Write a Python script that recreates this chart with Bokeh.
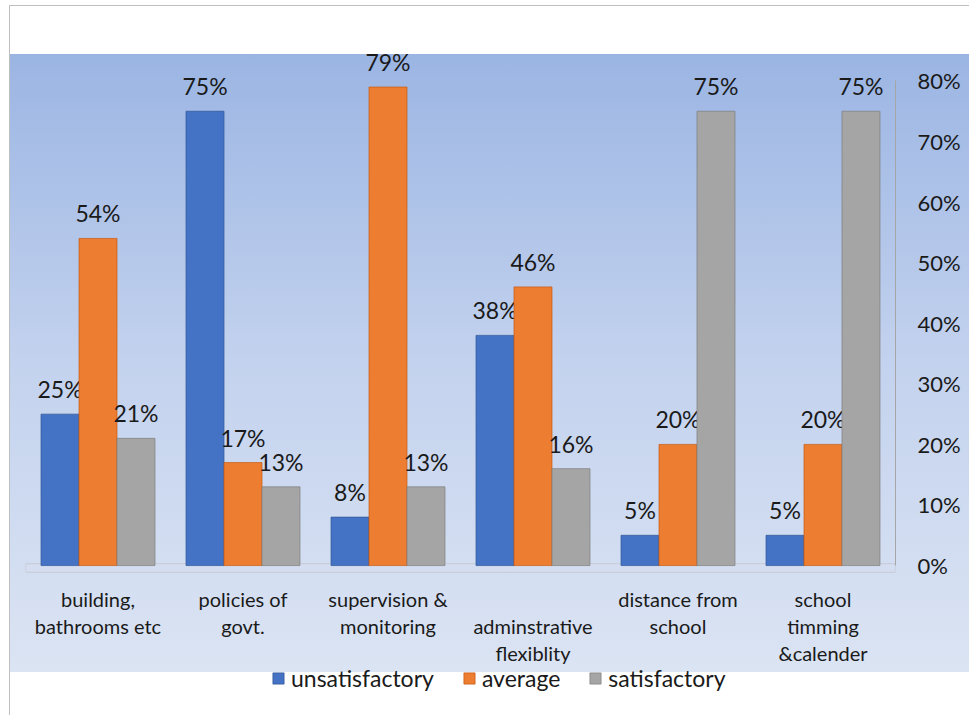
from bokeh.plotting import figure
from bokeh.models import (ColumnDataSource, FactorRange, Range1d, FixedTicker,
                          NumeralTickFormatter, BoxAnnotation, Legend, LegendItem)
from bokeh.transform import dodge
from bokeh.core.properties import value
from bokeh.embed import file_html
from bokeh.resources import INLINE

categories = ["building,\nbathrooms etc", "policies of\ngovt.", "supervision &\nmonitoring",
              "\nadminstrative\nflexiblity", "distance from\nschool", "school\ntimming\n&calender"]
unsatisfactory = [0.25, 0.75, 0.08, 0.38, 0.05, 0.05]
average = [0.54, 0.17, 0.79, 0.46, 0.20, 0.20]
satisfactory = [0.21, 0.13, 0.13, 0.16, 0.75, 0.75]
y_ticks = [0, 0.1, 0.2, 0.3, 0.4, 0.5, 0.6, 0.7, 0.8]

series = [("unsatisfactory", unsatisfactory, "#4472C4", "#2F5597", -0.262),
          ("average", average, "#ED7D31", "#C55A11", 0.0),
          ("satisfactory", satisfactory, "#A5A5A5", "#7F7F7F", 0.262)]

FONT = "Lato"
TXT = "#1A1A1A"

src = ColumnDataSource(dict(
    cat=categories,
    base=[0] * len(categories),
    unsatisfactory=unsatisfactory, average=average, satisfactory=satisfactory,
    unsatisfactory_lbl=[f"{v:.0%}" for v in unsatisfactory],
    average_lbl=[f"{v:.0%}" for v in average],
    satisfactory_lbl=[f"{v:.0%}" for v in satisfactory],
))

bg_layers = ", ".join([
    "linear-gradient(#BFBFBF, #BFBFBF)",
    "linear-gradient(#BFBFBF, #BFBFBF)",
    "linear-gradient(to bottom, #9BB5E3 0%, #C3D2EE 50%, #DBE4F3 100%)",
])

p = figure(x_range=FactorRange(*categories, range_padding=0),
           y_range=Range1d(-0.2475, 0.88),
           width=969, height=715, output_backend="svg", toolbar_location=None,
           y_axis_location="right",
           min_border_left=25, min_border_right=74, min_border_top=32, min_border_bottom=0,
           background_fill_alpha=0, border_fill_alpha=0, outline_line_color=None,
           styles={"background-color": "white",
                   "background-image": bg_layers,
                   "background-size": "1px 710px, 960px 1px, 959px 618px",
                   "background-position": "9px 5px, 9px 5px, 10px 54px",
                   "background-repeat": "no-repeat"})

p.grid.visible = False
p.xaxis.visible = False

# floor
p.add_layout(BoxAnnotation(bottom=-0.011, top=0.003, fill_color="#D5DEF0", fill_alpha=1,
                           line_color="#A0A0A0", line_width=1.2, level="underlay"))

items = []
for name, vals, col, edge, off in series:
    r = p.vbar(x=dodge("cat", off, range=p.x_range), top=name, bottom=0, width=0.262,
               source=src, fill_color=col, line_color=edge, line_width=1, line_alpha=0.7)
    items.append(LegendItem(label=name, renderers=[r]))
    p.text(x=dodge("cat", off, range=p.x_range), y=name, text=name + "_lbl", source=src,
           text_align="center", text_baseline="alphabetic", y_offset=-25,
           text_font=value(FONT), text_font_size="23px", text_color=TXT)

# category labels
p.text(x="cat", y="base", text="cat", source=src, text_align="center", text_baseline="top",
       y_offset=21, text_font=value(FONT), text_font_size="20px", text_color=TXT,
       text_line_height=1.13)

yax = p.yaxis[0]
yax.ticker = FixedTicker(ticks=y_ticks)
yax.formatter = NumeralTickFormatter(format="0%")
yax.bounds = (0, 0.8)
yax.axis_line_color = "#A6A6A6"
yax.major_tick_line_color = None
yax.minor_tick_line_color = None
yax.major_label_standoff = 16
yax.major_label_text_font = FONT
yax.major_label_text_font_size = "22px"
yax.major_label_text_color = TXT

legend = Legend(items=items, orientation="horizontal", location=(246, 23),
                glyph_width=14, glyph_height=14, label_standoff=6, spacing=28,
                padding=0, margin=0, border_line_color=None, background_fill_alpha=0,
                label_text_font=FONT, label_text_font_size="23px", label_text_color=TXT)
p.add_layout(legend, "center")

open("out.html", "w").write(file_html(p, INLINE))
